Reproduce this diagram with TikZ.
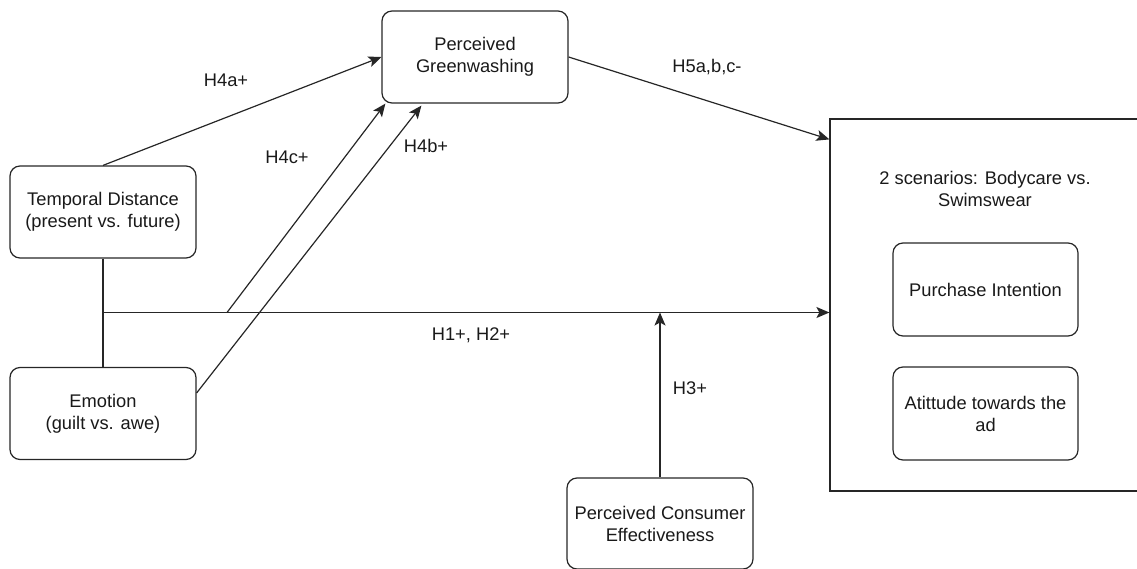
\documentclass[tikz,border=0pt]{standalone}
\usepackage{fontspec}
\setmainfont{Liberation Sans}
\usetikzlibrary{arrows.meta,calc}
\begin{document}
\begin{tikzpicture}[x=1pt,y=-1pt,
  every node/.style={font=\fontsize{18.3}{22}\selectfont, text=black!90},
  rbox/.style={draw=black!85, line width=1.2pt, rounded corners=10pt, minimum width=186pt, minimum height=92pt, align=center, inner sep=2pt},
  conn/.style={draw=black!85, line width=1.2pt},
  arr/.style={conn, -{Stealth[length=13pt,width=11pt,inset=3pt]}},
  lbl/.style={inner sep=0pt}
]
\useasboundingbox (0,0) rectangle (1137,569);
\clip (0,0) rectangle (1137,569);

% nodes
\node[rbox] (td) at (103,212) {Temporal Distance\\(present vs. future)};
\node[rbox] (em) at (103,413.5) {Emotion\\(guilt vs. awe)};
\node[rbox] (pg) at (475,57) {Perceived\\Greenwashing};
\node[rbox, minimum height=91pt] (pce) at (660,523.5) {Perceived Consumer\\Effectiveness};
\node[draw=black!85, line width=1.2pt, minimum width=320pt, minimum height=372pt, inner sep=0pt] (scen) at (990,305) {};
\node[lbl, align=center] (scentxt) at (985,189) {2 scenarios: Bodycare vs.\\Swimswear};
\node[rbox, minimum width=185pt, minimum height=93pt] (pi) at (985.5,289.5) {Purchase Intention};
\node[rbox, minimum width=185pt, minimum height=93pt] (att) at (985.5,413.5) {Atittude towards the\\ad};

% junction coordinates
\coordinate (j) at (td.south |- 0,312.5);
\coordinate (c4) at (227,312.5);
\coordinate (h3) at (pce.north |- j);

% connectors
\draw[conn] (td.south) -- (em.north);
\draw[arr] (j) -- (scen.west |- j);
\draw[arr] (td.north) -- (pg.west);
\draw[arr] (c4) -- ([xshift=4pt]pg.south west);
\draw[arr] ([yshift=20.5pt]em.east) -- ([xshift=40pt,yshift=-2pt]pg.south west);
\draw[arr] (pg.east) -- ([yshift=-21pt]scen.north west);
\draw[arr] (pce.north) -- (h3);

% labels
\node[lbl] (l4a) at (226,80) {H4a+};
\node[lbl] (l4c) at (287,157) {H4c+};
\node[lbl] (l4b) at (426,146) {H4b+};
\node[lbl] (l5) at (707,67) {H5a,b,c-};
\node[lbl] (l12) at (471,335) {H1+, H2+};
\node[lbl] (l3) at (690,388) {H3+};
\end{tikzpicture}
\end{document}
